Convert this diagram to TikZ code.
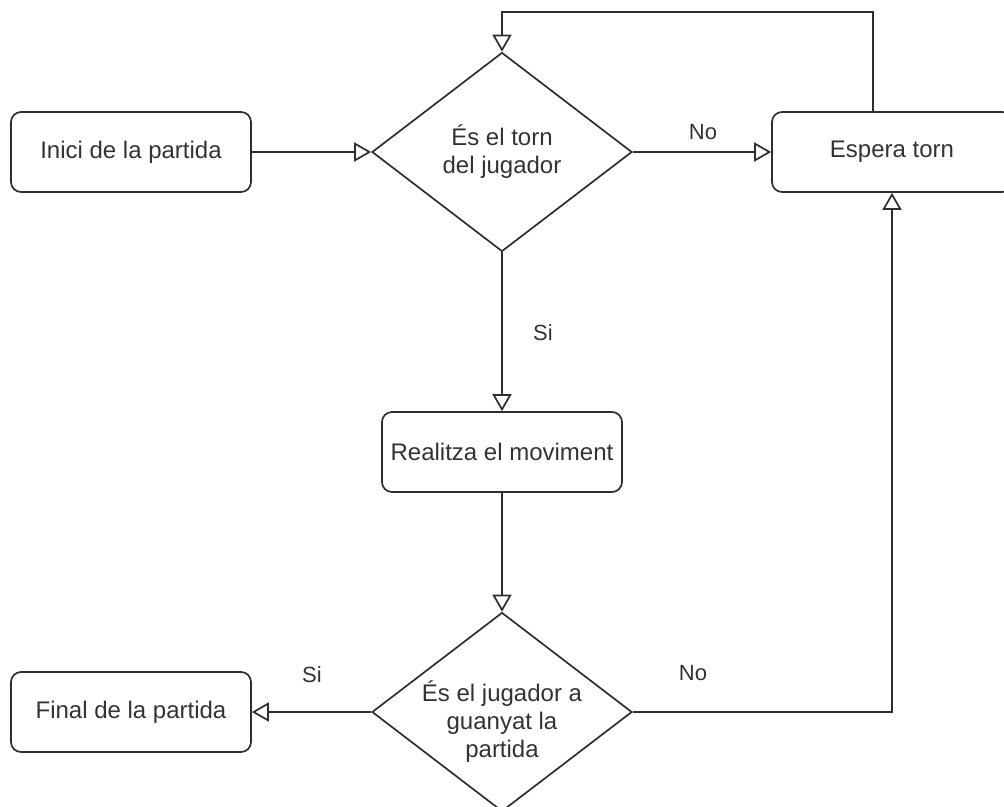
\documentclass[tikz,border=0pt]{standalone}
\usepackage{fontspec}
\setmainfont{Liberation Sans}
\usetikzlibrary{shapes.geometric,arrows.meta,calc}
\definecolor{ln}{HTML}{2E2E2E}
\definecolor{tx}{HTML}{333333}
\begin{document}
\begin{tikzpicture}[x=1bp,y=-1bp,
  box/.style={draw=ln,line width=1.7bp,rounded corners=10bp,minimum width=240bp,minimum height=80bp,inner sep=0pt,font=\fontsize{24bp}{28bp}\selectfont,text=tx,fill=white},
  dec/.style={draw=ln,line width=1.7bp,diamond,aspect=1.3,minimum width=260bp,minimum height=199bp,inner sep=0pt,align=center,font=\fontsize{24bp}{28bp}\selectfont,text=tx,fill=white},
  arr/.style={draw=ln,line width=1.7bp,-{Triangle[open,length=17bp,width=19bp,fill=white]}},
  lbl/.style={font=\fontsize{22bp}{26bp}\selectfont,text=tx,inner sep=0pt}]
\useasboundingbox (0,0) rectangle (1004,807);
\clip (0,0) rectangle (1004,807);
\fill[white] (0,0) rectangle (1004,807);
\node[box] (inici) at (131,152) {Inici de la partida};
\node[dec] (d1) at (502,152) {És el torn\\del jugador};
\node[box] (espera) at (892,152) {Espera torn};
\node[box] (real) at (502,452) {Realitza el moviment};
\node[dec] (d2) at (502,712) {};
\node[align=center,font=\fontsize{24bp}{28bp}\selectfont,text=tx,inner sep=0pt] (d2t) at (502,722) {És el jugador a\\guanyat la\\partida};
\node[box] (final) at (131,712) {Final de la partida};
\coordinate (top) at (873,12);
\draw[arr] (inici.east) -- (d1.west);
\draw[arr] (d1.east) -- (espera.west);
\node[lbl] (no1) at (703,132) {No};
\draw[arr] (d1.south) -- (real.north);
\node[lbl] (si1) at (543,333) {Si};
\draw[arr] (real.south) -- (d2.north);
\draw[arr] (d2.west) -- (final.east);
\node[lbl] (si2) at (312,675) {Si};
\draw[arr] (d2.east) -| (espera.south);
\node[lbl] (no2) at (693,673) {No};
\draw[arr] (espera.north -| top) |- (d1.north |- top) -- (d1.north);
\end{tikzpicture}
\end{document}
